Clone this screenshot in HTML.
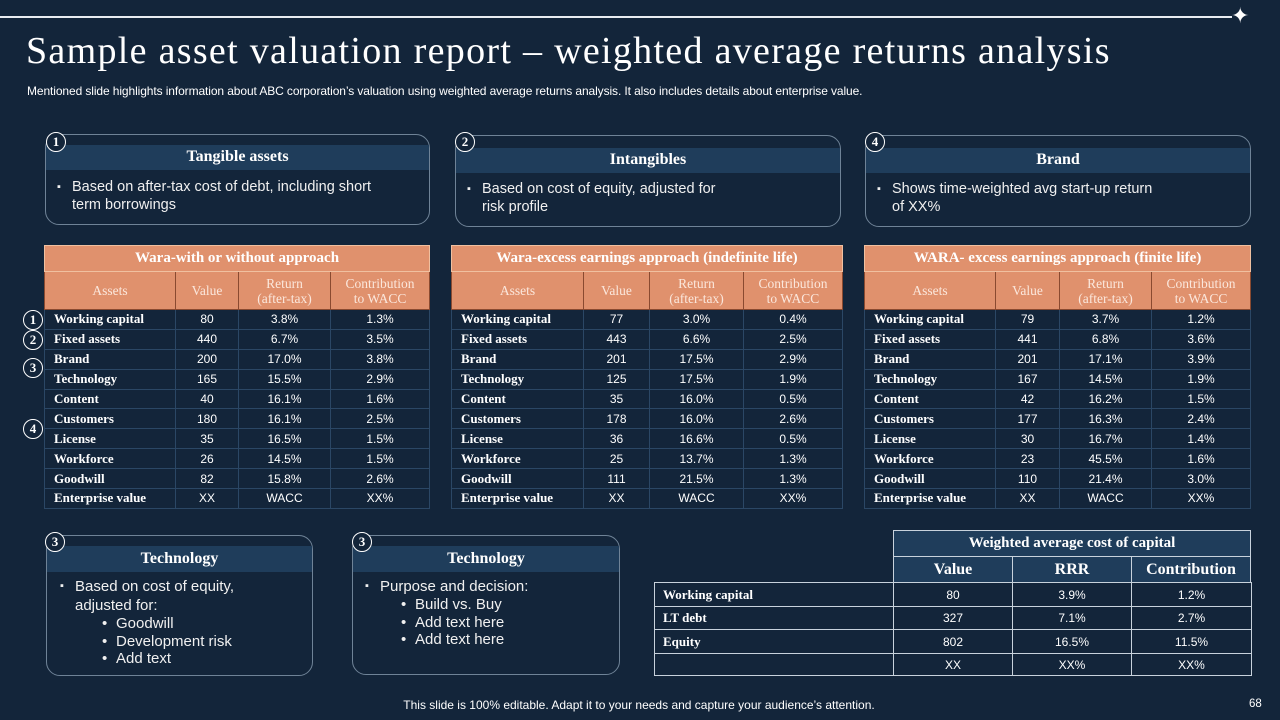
<!DOCTYPE html>
<html><head><meta charset="utf-8">
<style>
*{box-sizing:border-box;margin:0;padding:0}
body{width:1280px;height:720px;background:#13253a;position:relative;overflow:hidden;font-family:"Liberation Sans",sans-serif;color:#fff}
.abs{position:absolute}
.serif{font-family:"Liberation Serif",serif}
.box{position:absolute;border:1px solid #6f8397;border-radius:14px}
.band{position:absolute;left:0;right:0;background:#1f3d5b;font-family:"Liberation Serif",serif;font-weight:bold;font-size:16px;text-align:center}
.circ{position:absolute;width:20px;height:20px;border:1.5px solid #fff;border-radius:50%;background:#13253a;font-family:"Liberation Serif",serif;font-weight:bold;font-size:13px;line-height:17px;text-align:center}
.btxt{position:absolute;font-size:14.5px;line-height:18px;color:#f0f0f0}
.li{position:relative;padding-left:15px}
.li:before{content:"▪";position:absolute;left:0;font-size:11px}
.sub{position:relative;padding-left:14px}
.sub:before{content:"•";position:absolute;left:0}
table{position:absolute;border-collapse:collapse;table-layout:fixed}
.wt td{border:1px solid #2b4765;height:19.9px;font-size:12px;text-align:center;padding:0}
.wt td.n{text-align:left;padding-left:9px;font-family:"Liberation Serif",serif;font-weight:bold;font-size:13px}
.wt .tt td{background:#e0916d;font-family:"Liberation Serif",serif;font-weight:bold;font-size:15px;height:26px;border:1px solid #f0c0a0;color:#fff}
.wt .hh td{background:#e0916d;font-family:"Liberation Serif",serif;font-size:13.5px;line-height:15px;height:38px;border:1px solid #8a4a30;color:#fbe7dc}
.cc td{border:1px solid #c8d2dc;font-size:12px;text-align:center}
.cc td.n{text-align:left;padding-left:8px;font-family:"Liberation Serif",serif;font-weight:bold;font-size:13px}
.cc .hd td{background:#1f3d5b;font-family:"Liberation Serif",serif;font-weight:bold;font-size:15px}
</style></head><body>
<div class="abs" style="left:0;top:16px;width:1232px;height:1.5px;background:#e8ecf0"></div>
<div class="abs" style="left:1231px;top:5px;font-size:22px;line-height:22px">✦</div>
<div class="abs serif" style="left:26px;top:29px;font-size:38px;letter-spacing:1.3px;white-space:nowrap">Sample asset valuation report – weighted average returns analysis</div>
<div class="abs" style="left:27px;top:84px;font-size:12px;white-space:nowrap;letter-spacing:-0.1px">Mentioned slide highlights information about ABC corporation’s valuation using weighted average returns analysis. It also includes details about enterprise value.</div>

<div class="box" style="left:45px;top:134px;width:385px;height:91px">
 <div class="band" style="top:10px;height:25px;line-height:24px">Tangible assets</div>
 <div class="btxt" style="left:11px;top:43px;width:340px"><div class="li">Based on after-tax cost of debt, including short term borrowings</div></div>
</div>
<div class="circ" style="left:46px;top:132px">1</div>

<div class="box" style="left:455px;top:135px;width:386px;height:92px">
 <div class="band" style="top:12px;height:25px;line-height:24px">Intangibles</div>
 <div class="btxt" style="left:11px;top:44px;width:270px"><div class="li">Based on cost of equity, adjusted for risk profile</div></div>
</div>
<div class="circ" style="left:455px;top:132px">2</div>

<div class="box" style="left:865px;top:135px;width:386px;height:92px">
 <div class="band" style="top:12px;height:25px;line-height:24px">Brand</div>
 <div class="btxt" style="left:11px;top:44px;width:285px"><div class="li">Shows time-weighted avg start-up return of XX%</div></div>
</div>
<div class="circ" style="left:865px;top:132px">4</div>

<div id="tables"></div>

<div class="circ" style="left:23px;top:310px">1</div>
<div class="circ" style="left:23px;top:330px">2</div>
<div class="circ" style="left:23px;top:358px">3</div>
<div class="circ" style="left:23px;top:419px">4</div>

<div class="box" style="left:46px;top:535px;width:267px;height:141px">
 <div class="band" style="top:10px;height:26px;line-height:25px">Technology</div>
 <div class="btxt" style="left:13px;top:41px;width:220px;font-size:15px;line-height:19px"><div class="li">Based on cost of equity, adjusted for:</div>
  <div style="padding-left:42px;line-height:17.5px"><div class="sub">Goodwill</div><div class="sub">Development risk</div><div class="sub">Add text</div></div></div>
</div>
<div class="circ" style="left:45px;top:532px">3</div>

<div class="box" style="left:352px;top:535px;width:268px;height:140px">
 <div class="band" style="top:10px;height:26px;line-height:25px">Technology</div>
 <div class="btxt" style="left:12px;top:41px;width:240px;font-size:15px;line-height:19px"><div class="li">Purpose and decision:</div>
  <div style="padding-left:36px;line-height:17.5px"><div class="sub">Build vs. Buy</div><div class="sub">Add text here</div><div class="sub">Add text here</div></div></div>
</div>
<div class="circ" style="left:352px;top:532px">3</div>

<table class="cc" style="left:893px;top:530px;width:358px">
 <tr class="hd"><td colspan="3" style="height:26px">Weighted average cost of capital</td></tr>
 <tr class="hd"><td style="height:26px;font-size:16px">Value</td><td style="font-size:16px">RRR</td><td style="font-size:16px">Contribution</td></tr>
</table>
<table class="cc" id="wacc" style="left:654px;top:582px;width:597px">
 <colgroup><col style="width:239px"><col style="width:119px"><col style="width:119px"><col style="width:120px"></colgroup>
</table>

<div class="abs" style="left:0;width:1278px;top:698px;text-align:center;font-size:12px">This slide is 100% editable. Adapt it to your needs and capture your audience’s attention.</div>
<div class="abs" style="left:1249px;top:698px;font-size:11.5px">68</div>

<script>
const assetNames=["Working capital","Fixed assets","Brand","Technology","Content","Customers","License","Workforce","Goodwill","Enterprise value"];
const t1Values=["80","440","200","165","40","180","35","26","82","XX"];
const t1Returns=["3.8%","6.7%","17.0%","15.5%","16.1%","16.1%","16.5%","14.5%","15.8%","WACC"];
const t1Contrib=["1.3%","3.5%","3.8%","2.9%","1.6%","2.5%","1.5%","1.5%","2.6%","XX%"];
const t2Values=["77","443","201","125","35","178","36","25","111","XX"];
const t2Returns=["3.0%","6.6%","17.5%","17.5%","16.0%","16.0%","16.6%","13.7%","21.5%","WACC"];
const t2Contrib=["0.4%","2.5%","2.9%","1.9%","0.5%","2.6%","0.5%","1.3%","1.3%","XX%"];
const t3Values=["79","441","201","167","42","177","30","23","110","XX"];
const t3Returns=["3.7%","6.8%","17.1%","14.5%","16.2%","16.3%","16.7%","45.5%","21.4%","WACC"];
const t3Contrib=["1.2%","3.6%","3.9%","1.9%","1.5%","2.4%","1.4%","1.6%","3.0%","XX%"];
const waccNames=["Working capital","LT debt","Equity",""];
const waccValues=["80","327","802","XX"];
const waccRRR=["3.9%","7.1%","16.5%","XX%"];
const waccContrib=["1.2%","2.7%","11.5%","XX%"];

const specs=[
 {title:"Wara-with or without approach",x:44,cols:[131,63,92,99],v:t1Values,r:t1Returns,c:t1Contrib,name:"wara-with-without-table"},
 {title:"Wara-excess earnings approach (indefinite life)",x:451,cols:[132,66,94,99],v:t2Values,r:t2Returns,c:t2Contrib,name:"wara-indefinite-table"},
 {title:"WARA- excess earnings approach (finite life)",x:864,cols:[131,64,92,99],v:t3Values,r:t3Returns,c:t3Contrib,name:"wara-finite-table"}
];
const host=document.getElementById('tables');
specs.forEach(s=>{
 const t=document.createElement('table');
 
 
 t.className='wt';
 t.style.left=s.x+'px';t.style.top='245px';
 t.style.width=s.cols.reduce((a,b)=>a+b,0)+'px';
 let h='<colgroup>'+s.cols.map(w=>'<col style="width:'+w+'px">').join('')+'</colgroup>';
 h+='<tr class="tt"><td colspan="4">'+s.title+'</td></tr>';
 h+='<tr class="hh"><td>Assets</td><td>Value</td><td>Return<br>(after-tax)</td><td>Contribution<br>to WACC</td></tr>';
 assetNames.forEach((n,i)=>{h+='<tr><td class="n">'+n+'</td><td>'+s.v[i]+'</td><td>'+s.r[i]+'</td><td>'+s.c[i]+'</td></tr>';});
 t.innerHTML=h;
 host.appendChild(t);
});
const w=document.getElementById('wacc');
const hts=[24,23,24,22];
waccNames.forEach((n,i)=>{
 const tr=document.createElement('tr');
 
 
 tr.innerHTML='<td class="n" style="height:'+hts[i]+'px">'+n+'</td><td>'+waccValues[i]+'</td><td>'+waccRRR[i]+'</td><td>'+waccContrib[i]+'</td>';
 w.appendChild(tr);
});
</script>
</body></html>
